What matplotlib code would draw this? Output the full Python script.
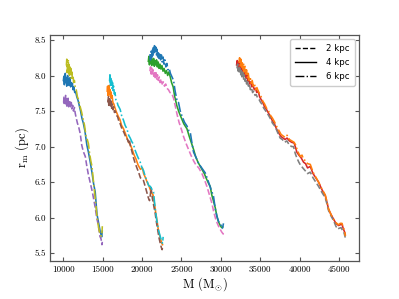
import matplotlib
matplotlib.use("Agg")
import matplotlib.pyplot as plt
from matplotlib.lines import Line2D

# ---- data: (M [Msun], r_m [pc]) per cluster group and galactocentric distance ----
g1_4kpc = [(10020,7.93),(10080,7.99),(10140,7.87),(10200,7.96),(10260,8.03),(10320,7.90),(10380,7.97),(10440,7.85),(10500,7.94),(10560,8.00),(10620,7.88),(10680,7.95),(10740,7.86),(10800,7.92),(10870,7.97),(10940,7.84),(11010,7.90),(11080,7.86),(11160,7.89),(11250,7.80),(11350,7.84),(11460,7.76),(11580,7.77),(11720,7.70),(11880,7.65),(12050,7.57),(12200,7.50),(12370,7.40),(12550,7.33),(12750,7.22),(13000,7.02),(13200,6.92),(13400,6.80),(13640,6.64),(13850,6.48),(14060,6.36),(14280,6.05),(14450,5.95),(14600,5.86),(14700,5.80),(14800,5.76),(14880,5.73),(14950,5.81)]
g2_4kpc = [(15580,7.78),(15630,7.85),(15680,7.72),(15730,7.83),(15780,7.76),(15830,7.86),(15880,7.74),(15930,7.80),(15990,7.70),(16050,7.77),(16120,7.68),(16200,7.72),(16300,7.62),(16420,7.60),(16550,7.55),(16700,7.50),(16850,7.46),(17000,7.42),(17200,7.38),(17400,7.30),(17650,7.25),(17900,7.18),(18100,7.12),(18300,7.06),(18500,7.03),(18750,6.96),(19000,6.88),(19250,6.82),(19500,6.74),(19800,6.68),(20050,6.70),(20200,6.62),(20400,6.57),(20650,6.50),(20900,6.44),(21150,6.36),(21400,6.32),(21600,6.18),(21750,6.06),(21900,5.96),(22050,5.84),(22200,5.76),(22350,5.70),(22500,5.64),(22600,5.62)]
g3_4kpc = [(20800,8.20),(20870,8.27),(20940,8.15),(21010,8.25),(21080,8.17),(21150,8.26),(21230,8.14),(21310,8.23),(21390,8.16),(21470,8.24),(21560,8.13),(21650,8.21),(21740,8.15),(21840,8.22),(21940,8.12),(22050,8.19),(22160,8.10),(22280,8.16),(22400,8.09),(22530,8.14),(22660,8.06),(22800,8.10),(22950,8.03),(23100,8.07),(23250,8.00),(23400,8.05),(23580,7.98),(23750,7.90),(23950,7.84),(24150,7.70),(24430,7.57),(24700,7.48),(25000,7.40),(25300,7.32),(25700,7.25),(26000,7.14),(26300,7.04),(26540,6.96),(26800,6.86),(27100,6.78),(27400,6.72),(27600,6.68),(27900,6.62),(28200,6.54),(28450,6.48),(28650,6.44),(28850,6.32),(29050,6.24),(29290,6.14),(29500,6.02),(29700,5.94),(29920,5.89),(30100,5.86),(30250,5.87)]
g4_4kpc = [(32000,8.15),(32080,8.21),(32160,8.11),(32240,8.19),(32320,8.09),(32400,8.17),(32480,8.08),(32560,8.15),(32640,8.05),(32730,8.12),(32820,8.02),(32910,8.09),(33000,8.00),(33100,8.05),(33200,7.96),(33300,8.01),(33420,7.92),(33540,7.96),(33660,7.88),(33800,7.91),(33940,7.84),(34080,7.87),(34240,7.80),(34400,7.82),(34560,7.76),(34740,7.78),(34920,7.70),(35120,7.66),(35320,7.62),(35550,7.56),(35800,7.52),(36050,7.47),(36300,7.42),(36550,7.36),(36800,7.32),(37100,7.24),(37400,7.18),(37650,7.14),(37900,7.12),(38150,7.10),(38400,7.12),(38700,7.08),(39000,7.06),(39300,7.05),(39500,6.98),(39650,6.92),(39900,6.88),(40200,6.84),(40500,6.78),(40750,6.76),(41000,6.70),(41350,6.72),(41700,6.62),(42050,6.56),(42400,6.50),(42800,6.40),(43250,6.31),(43500,6.20),(43670,6.12),(44000,6.04),(44300,5.98),(44600,5.92),(44940,5.89),(45150,5.90),(45370,5.91),(45550,5.84),(45700,5.80),(45790,5.76)]

g1_2kpc = [(10050,7.62),(10100,7.71),(10150,7.58),(10200,7.69),(10250,7.63),(10300,7.72),(10350,7.60),(10400,7.67),(10450,7.57),(10500,7.66),(10560,7.61),(10620,7.68),(10680,7.56),(10740,7.64),(10800,7.59),(10870,7.65),(10940,7.55),(11020,7.62),(11100,7.53),(11200,7.58),(11300,7.50),(11420,7.55),(11520,7.47),(11650,7.40),(11800,7.33),(11950,7.28),(12160,7.18),(12350,7.02),(12550,6.93),(12800,6.86),(13000,6.72),(13200,6.60),(13450,6.48),(13700,6.36),(13900,6.24),(14060,6.14),(14250,6.00),(14480,5.88),(14650,5.74),(14800,5.70),(14910,5.62),(14960,5.66)]
g2_2kpc = [(15680,7.62),(15730,7.70),(15780,7.58),(15830,7.67),(15880,7.60),(15940,7.68),(16000,7.57),(16070,7.64),(16140,7.54),(16220,7.60),(16300,7.52),(16400,7.56),(16500,7.48),(16600,7.50),(16750,7.44),(16900,7.42),(17050,7.36),(17230,7.32),(17450,7.25),(17700,7.20),(17950,7.13),(18150,7.10),(18290,7.06),(18400,7.10),(18500,7.02),(18700,6.94),(18920,6.84),(19150,6.76),(19350,6.70),(19560,6.64),(19800,6.56),(20000,6.54),(20190,6.52),(20400,6.44),(20600,6.36),(20800,6.28),(20950,6.24),(21050,6.32),(21150,6.42),(21300,6.28),(21500,6.16),(21670,6.06),(21850,5.92),(22000,5.82),(22150,5.72),(22310,5.64),(22450,5.58),(22550,5.55),(22620,5.60)]
g3_2kpc = [(21000,8.06),(21080,8.12),(21160,8.02),(21240,8.10),(21320,8.00),(21400,8.08),(21490,7.99),(21580,8.06),(21670,7.97),(21760,8.04),(21860,7.95),(21960,8.01),(22070,7.93),(22180,7.98),(22300,7.90),(22420,7.95),(22550,7.88),(22700,7.91),(22850,7.85),(23000,7.88),(23160,7.82),(23350,7.80),(23550,7.76),(23800,7.74),(24000,7.68),(24200,7.58),(24430,7.46),(24700,7.34),(25000,7.24),(25270,7.14),(25600,7.04),(25900,6.96),(26200,6.88),(26540,6.80),(26850,6.74),(27200,6.70),(27600,6.62),(27900,6.54),(28230,6.44),(28500,6.34),(28870,6.20),(29100,6.08),(29350,5.98),(29550,5.92),(29710,5.88),(29900,5.84),(30100,5.80),(30300,5.77),(30340,5.80)]
g4_2kpc = [(32050,8.10),(32130,8.16),(32210,8.06),(32290,8.13),(32370,8.03),(32450,8.10),(32530,8.01),(32610,8.08),(32690,7.98),(32780,8.05),(32870,7.95),(32960,8.01),(33060,7.92),(33160,7.97),(33270,7.88),(33380,7.93),(33500,7.85),(33620,7.88),(33750,7.80),(33890,7.83),(34030,7.76),(34180,7.78),(34340,7.72),(34500,7.73),(34680,7.68),(34860,7.66),(35050,7.62),(35210,7.60),(35450,7.54),(35700,7.50),(36050,7.44),(36300,7.39),(36550,7.33),(36900,7.28),(37200,7.20),(37530,7.12),(37800,7.10),(38100,7.06),(38380,7.08),(38700,7.02),(39000,7.00),(39220,7.00),(39450,6.90),(39650,6.84),(39900,6.78),(40100,6.74),(40400,6.70),(40710,6.66),(41000,6.62),(41350,6.64),(41700,6.56),(42050,6.50),(42400,6.44),(42800,6.36),(43250,6.28),(43500,6.18),(43670,6.10),(44000,6.02),(44300,5.96),(44600,5.88),(44800,5.84),(45000,5.85),(45250,5.86),(45450,5.82),(45650,5.78),(45790,5.72)]

g1_6kpc = [(10400,8.14),(10450,8.23),(10500,8.04),(10550,8.19),(10600,8.08),(10650,8.22),(10700,8.01),(10750,8.15),(10800,7.99),(10850,8.12),(10900,8.03),(10960,8.10),(11020,7.96),(11090,8.05),(11160,7.94),(11240,8.00),(11320,7.90),(11420,7.93),(11520,7.84),(11650,7.80),(11800,7.70),(11950,7.66),(12100,7.58),(12300,7.50),(12500,7.40),(12700,7.30),(12900,7.14),(13050,7.10),(13200,7.04),(13350,6.90),(13500,6.80),(13650,6.72),(13800,6.55),(13950,6.38),(14060,6.26),(14250,6.06),(14400,5.92),(14550,5.82),(14700,5.77),(14820,5.74),(14900,5.76),(14960,5.88)]
g2_6kpc = [(15880,7.92),(15930,8.01),(15980,7.86),(16030,7.96),(16080,7.84),(16130,7.93),(16190,7.82),(16250,7.90),(16320,7.79),(16400,7.85),(16480,7.74),(16570,7.76),(16680,7.66),(16800,7.64),(16950,7.58),(17100,7.55),(17230,7.52),(17400,7.44),(17650,7.37),(17850,7.30),(18080,7.25),(18300,7.16),(18500,7.12),(18700,7.07),(18920,7.03),(19150,6.94),(19400,6.87),(19600,6.82),(19770,6.78),(20000,6.70),(20200,6.66),(20400,6.58),(20620,6.52),(20850,6.45),(21050,6.44),(21250,6.40),(21460,6.36),(21600,6.20),(21700,6.10),(21850,5.98),(22000,5.88),(22100,5.82),(22250,5.76),(22400,5.70),(22520,5.66),(22600,5.64),(22680,5.73)]
g3_6kpc = [(21000,8.30),(21070,8.22),(21140,8.34),(21210,8.25),(21280,8.37),(21350,8.28),(21420,8.39),(21500,8.30),(21580,8.42),(21660,8.31),(21740,8.40),(21820,8.29),(21900,8.37),(21990,8.26),(22080,8.34),(22170,8.24),(22260,8.32),(22360,8.22),(22460,8.29),(22560,8.19),(22670,8.26),(22780,8.16),(22900,8.22),(23020,8.12),(23150,8.17),(23300,8.08),(23450,8.10),(23600,8.03),(23800,7.98),(24000,7.93),(24200,7.78),(24450,7.64),(24630,7.62),(24850,7.50),(25100,7.42),(25400,7.34),(25700,7.29),(25950,7.22),(26120,7.20),(26350,7.04),(26540,6.92),(26800,6.86),(27100,6.78),(27390,6.73),(27700,6.68),(28020,6.63),(28250,6.56),(28440,6.50),(28750,6.40),(29070,6.30),(29300,6.12),(29500,6.02),(29700,5.95),(29920,5.91),(30100,5.88),(30200,5.85),(30340,5.92)]
g4_6kpc = [(32300,8.18),(32380,8.25),(32460,8.14),(32540,8.23),(32620,8.12),(32700,8.20),(32790,8.09),(32880,8.17),(32970,8.05),(33060,8.13),(33160,8.02),(33260,8.08),(33370,7.97),(33480,8.03),(33600,7.93),(33720,7.98),(33850,7.89),(33980,7.93),(34120,7.85),(34270,7.88),(34420,7.80),(34580,7.83),(34740,7.78),(34920,7.74),(35120,7.70),(35320,7.64),(35550,7.60),(35800,7.54),(36050,7.50),(36300,7.44),(36550,7.40),(36800,7.35),(37100,7.28),(37400,7.22),(37650,7.17),(37900,7.15),(38150,7.13),(38400,7.16),(38700,7.10),(39000,7.08),(39300,7.06),(39500,7.02),(39700,6.95),(39900,6.90),(40100,6.86),(40300,6.88),(40500,6.82),(40750,6.80),(41000,6.76),(41350,6.75),(41700,6.64),(42050,6.57),(42400,6.50),(42800,6.41),(43250,6.32),(43500,6.21),(43670,6.12),(44000,6.04),(44300,5.98),(44600,5.93),(44940,5.90),(45150,5.92),(45370,5.92),(45550,5.86),(45700,5.82),(45800,5.74)]

distances = ["2 kpc", "4 kpc", "6 kpc"]
styles = {"2 kpc": "--", "4 kpc": "-", "6 kpc": "-."}
# plotting order follows the colour cycle: 4 kpc group set, then 2 kpc, then 6 kpc
series_order = [
    ("4 kpc", [g1_4kpc, g2_4kpc, g3_4kpc, g4_4kpc]),
    ("2 kpc", [g1_2kpc, g2_2kpc, g3_2kpc, g4_2kpc]),
    ("6 kpc", [g1_6kpc, g2_6kpc, g3_6kpc, g4_6kpc]),
]

plt.rcParams.update({
    "font.family": "serif",
    "font.serif": ["cmr10", "DejaVu Serif"],
    "mathtext.fontset": "cm",
    "axes.formatter.use_mathtext": True,
    "axes.unicode_minus": False,
})

fig = plt.figure(figsize=(3.99, 2.99), dpi=100)
ax = fig.add_axes([0.1253, 0.127, 0.775, 0.756])

for dist, groups in series_order:
    for pts in groups:
        xs = [p[0] for p in pts]
        ys = [p[1] for p in pts]
        ax.plot(xs, ys, ls=styles[dist], lw=1.15)

ax.set_xticks([10000, 15000, 20000, 25000, 30000, 35000, 40000, 45000])
ax.set_yticks([5.5, 6.0, 6.5, 7.0, 7.5, 8.0, 8.5])
ax.set_yticklabels(["5.5", "6.0", "6.5", "7.0", "7.5", "8.0", "8.5"])
ax.set_xticklabels(["10000", "15000", "20000", "25000", "30000", "35000", "40000", "45000"])
ax.set_xlim(8320, 47560)
ax.set_ylim(5.39, 8.57)

spine_col = "#555555"
for s in ax.spines.values():
    s.set_color(spine_col)
    s.set_linewidth(0.9)
ax.tick_params(direction="in", top=True, right=True, length=3, width=0.8,
               color=spine_col, labelsize=6.5, pad=3)

ax.set_xlabel(r"M (M$_{\odot}$)", fontsize=9, labelpad=1)
ax.set_ylabel(r"r$_{\rm m}$ (pc)", fontsize=9, labelpad=2)

handles = [Line2D([0], [0], color="black", ls=styles[d], lw=1.0) for d in distances]
leg = ax.legend(handles, distances, loc="upper right",
                prop={"family": "DejaVu Sans", "size": 6.2}, handlelength=2.4,
                borderpad=0.6, labelspacing=0.55, handletextpad=1.2,
                framealpha=1.0, edgecolor="#cccccc", fancybox=True)

fig.savefig("out.png", dpi=100)
